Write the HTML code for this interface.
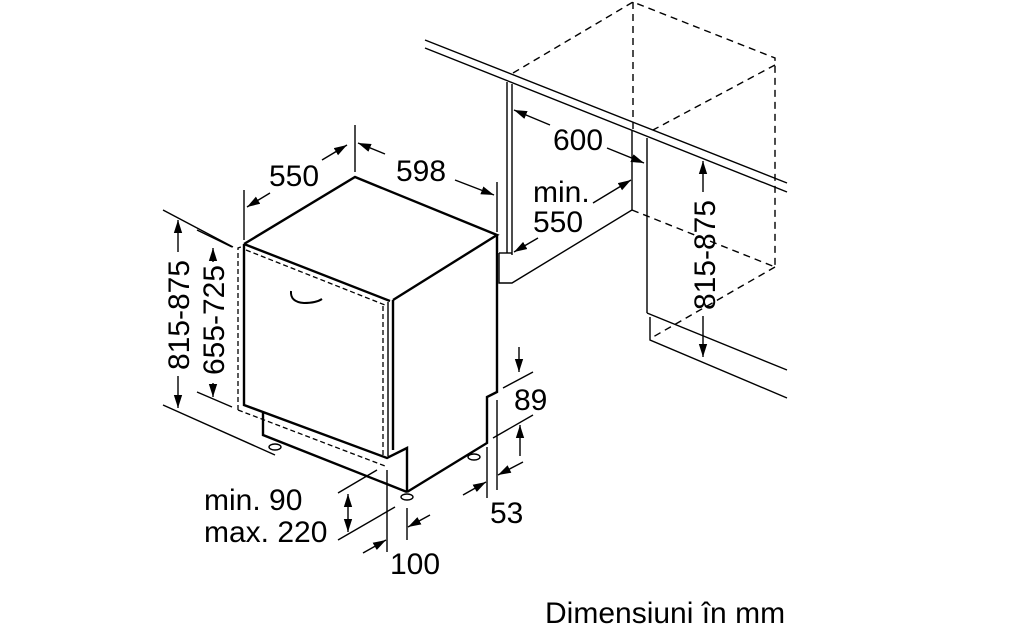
<!DOCTYPE html>
<html><head><meta charset="utf-8"><style>
html,body{margin:0;padding:0;background:#fff;}
svg{display:block;}
text{font-family:"Liberation Sans",sans-serif;fill:#000;font-size:30px;}
</style></head><body>
<svg width="1023" height="639" viewBox="0 0 1023 639" xmlns="http://www.w3.org/2000/svg">
<defs>
<marker id="a" viewBox="0 0 10 10" refX="10" refY="5" markerWidth="13" markerHeight="13" orient="auto-start-reverse" markerUnits="userSpaceOnUse"><path d="M0,1.8 L10,5 L0,8.2 z" fill="#000"/></marker>
</defs>
<g fill="none" stroke="#000" stroke-width="1.4">
<line x1="425" y1="40" x2="787" y2="183"/>
<line x1="425" y1="48" x2="787" y2="192"/>
<line x1="507" y1="82" x2="507" y2="253"/>
<line x1="512" y1="84" x2="512" y2="255"/>
<polyline points="499,253 499,283 512,283 632,210 632,130"/>
<line x1="499" y1="253" x2="512" y2="253"/>
<line x1="647" y1="138" x2="647" y2="313"/>
<polyline points="647,313 787,370"/>
<polyline points="650,317 650,340 787,398"/>
<g stroke-dasharray="7,5">
<polyline points="513,73 633,2 775,58 775,267"/>
<line x1="633" y1="2" x2="633" y2="130"/>
<line x1="775" y1="65" x2="653" y2="130"/>
<line x1="632" y1="210" x2="775" y2="267"/>
<line x1="775" y1="267" x2="653" y2="337"/>
</g>
<g stroke-width="2.4">
<polyline points="244,244 355,177 497,235 393,300"/>
<line x1="244" y1="244" x2="390" y2="301"/>
<polyline points="244,244 244,405 387,458 407,448 407,492"/>
<polyline points="497,235 497,392 487,397 487,443 407,492"/>
<polyline points="263,413 263,435 407,492"/>
<line x1="393" y1="300" x2="393" y2="450"/>
</g>
<line x1="388" y1="302" x2="388" y2="456"/>
<g stroke-dasharray="5,3" stroke-width="1.3">
<polyline points="238,410 238,248 244,246"/>
<line x1="246" y1="250" x2="385" y2="305"/>
<line x1="383" y1="306" x2="383" y2="458"/>
<line x1="238" y1="410" x2="385" y2="466"/>
</g>
<path d="M291,291 Q290,302 304,303 Q316,303 322,299" stroke-width="2"/>
<g stroke-width="1.4"><ellipse cx="275" cy="447" rx="6" ry="3"/><ellipse cx="407" cy="497" rx="6" ry="3"/><ellipse cx="474" cy="457" rx="6" ry="3"/></g>
<line x1="244" y1="190" x2="244" y2="240"/>
<line x1="355" y1="125" x2="355" y2="172"/>
<line x1="497" y1="182" x2="497" y2="232"/>
<line x1="270" y1="193" x2="247" y2="207" marker-end="url(#a)"/>
<line x1="322" y1="160" x2="347" y2="145" marker-end="url(#a)"/>
<line x1="385" y1="154" x2="358" y2="143" marker-end="url(#a)"/>
<line x1="455" y1="180" x2="494" y2="195" marker-end="url(#a)"/>
<line x1="163" y1="210" x2="233" y2="247"/>
<line x1="163" y1="405" x2="275" y2="455"/>
<line x1="197" y1="230" x2="232" y2="247"/>
<line x1="197" y1="392" x2="232" y2="407"/>
<line x1="178" y1="252" x2="178" y2="220" marker-end="url(#a)"/>
<line x1="178" y1="376" x2="178" y2="408" marker-end="url(#a)"/>
<line x1="213" y1="262" x2="213" y2="248" marker-end="url(#a)"/>
<line x1="213" y1="383" x2="213" y2="397" marker-end="url(#a)"/>
<line x1="550" y1="125" x2="514" y2="110" marker-end="url(#a)"/>
<line x1="607" y1="148" x2="644" y2="163" marker-end="url(#a)"/>
<line x1="593" y1="203" x2="631" y2="180" marker-end="url(#a)"/>
<line x1="538" y1="238" x2="514" y2="252" marker-end="url(#a)"/>
<line x1="703" y1="192" x2="703" y2="161" marker-end="url(#a)"/>
<line x1="703" y1="316" x2="703" y2="357" marker-end="url(#a)"/>
<line x1="503" y1="388" x2="533" y2="372"/>
<line x1="493" y1="438" x2="533" y2="415"/>
<line x1="519" y1="347" x2="519" y2="372" marker-end="url(#a)"/>
<line x1="520" y1="456" x2="520" y2="425" marker-end="url(#a)"/>
<line x1="487" y1="447" x2="487" y2="498"/>
<line x1="497" y1="400" x2="497" y2="490"/>
<line x1="463" y1="495" x2="486" y2="482" marker-end="url(#a)"/>
<line x1="523" y1="462" x2="498" y2="475" marker-end="url(#a)"/>
<line x1="338" y1="493" x2="377" y2="470"/>
<line x1="338" y1="540" x2="395" y2="507"/>
<line x1="348" y1="494" x2="348" y2="532" marker-start="url(#a)" marker-end="url(#a)"/>
<line x1="387" y1="470" x2="387" y2="552"/>
<line x1="407" y1="508" x2="407" y2="540"/>
<line x1="363" y1="553" x2="386" y2="540" marker-end="url(#a)"/>
<line x1="430" y1="515" x2="408" y2="527" marker-end="url(#a)"/>
</g>
<text x="269" y="186">550</text>
<text x="396" y="181">598</text>
<text x="553" y="150">600</text>
<text x="533" y="202">min.</text>
<text x="533" y="232">550</text>
<text x="514" y="410">89</text>
<text x="490" y="523">53</text>
<text x="204" y="510">min. 90</text>
<text x="204" y="542">max. 220</text>
<text x="390" y="574">100</text>
<text x="545" y="623">Dimensiuni în mm</text>
<text transform="translate(189,315) rotate(-90)" text-anchor="middle">815-875</text>
<text transform="translate(224,320) rotate(-90)" text-anchor="middle">655-725</text>
<text transform="translate(715,255) rotate(-90)" text-anchor="middle">815-875</text>
</svg>
</body></html>
